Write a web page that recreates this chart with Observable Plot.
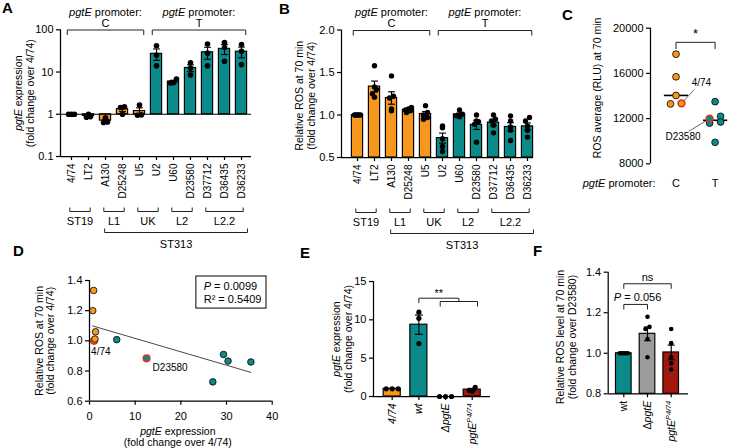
<!DOCTYPE html>
<html>
<head>
<meta charset="utf-8">
<script src="https://cdn.jsdelivr.net/npm/d3@7"></script>
<script src="https://cdn.jsdelivr.net/npm/@observablehq/plot@0.6"></script>
<style>
  html, body { margin: 0; background: #fff; }
  #fig { position: relative; width: 741px; height: 448px; overflow: hidden; background: #fff;
         font-family: "Liberation Sans", Arial, Helvetica, sans-serif; }
  #fig svg { position: absolute; left: 0; top: 0; }
  .panel-letter { position: absolute; font-weight: bold; font-size: 15px; line-height: 15px; }
</style>
</head>
<body>
<div id="fig"></div>
<script>
const W = 741, H = 448;
const FONT = '"Liberation Sans", Arial, Helvetica, sans-serif';
const ORANGE = "#f7971d", TEAL = "#0a8b8a", DARKRED = "#a2180d", GREY = "#9c9c9c", RING = "#d7361f";

// ---------- isolates (panels A-D) ----------
const strains = ["4/74", "LT2", "A130", "D25248", "U5", "U2", "U60", "D23580", "D37712", "D36435", "D36233"];
const promoterAllele = ["C", "C", "C", "C", "C", "T", "T", "T", "T", "T", "T"];
const lineageNames = ["ST19", "L1", "UK", "L2", "L2.2"];
const lineageFirst = [0, 2, 4, 6, 8];
const lineageLast = [1, 3, 5, 7, 10];
const st313Name = "ST313", st313First = 2, st313Last = 10;
const highlighted = ["4/74", "D23580"];

// pgtE expression, fold change over 4/74 (three replicates per isolate)
const expressionReps = [
  [1.0, 1.0, 1.0],
  [1.0, 0.85, 0.88],
  [0.82, 0.66, 0.64],
  [1.5, 1.45, 1.0],
  [1.65, 0.97, 0.95],
  [42, 25, 14],
  [6.8, 5.5, 5.6],
  [16.5, 12.5, 8.5],
  [46, 28, 14],
  [50, 38, 18],
  [45, 31, 15]
];
// relative ROS at 70 min, fold change over 4/74 (five replicates per isolate)
const rosReps = [
  [1.0, 1.0, 1.0, 1.0, 1.0],
  [1.58, 1.33, 1.30, 1.25, 1.21],
  [1.46, 1.22, 1.20, 1.07, 1.05],
  [1.09, 1.07, 1.06, 1.05, 1.03],
  [1.11, 1.03, 1.0, 0.97, 0.95],
  [0.87, 0.85, 0.72, 0.63, 0.57],
  [1.06, 1.01, 1.0, 0.99, 0.98],
  [1.0, 0.93, 0.92, 0.89, 0.68],
  [1.0, 0.95, 0.93, 0.88, 0.79],
  [0.99, 0.93, 0.86, 0.82, 0.70],
  [0.97, 0.93, 0.87, 0.82, 0.74]
];
// ROS average (RLU) at 70 min per isolate
const rluAverage = [13350, 17700, 15700, 14050, 13300, 9900, 13500, 12000, 12200, 11600, 11700];
const promoterGroups = ["C", "T"];

const regressionStats = ["P = 0.0099", "R² = 0.5409"];
const sigC = "*";

// ---------- D23580 mutants (panels E-F) ----------
const mutantLabelsE = ["4/74", "wt", "ΔpgtE", "pgtE^P4/74"];
const expressionRepsE = [[1, 1, 1], [11.0, 10.2, 6.9], [0, 0, 0], [1.2, 0.8, 0.7]];
const sigE = "**";
const mutantLabelsF = ["wt", "ΔpgtE", "pgtE^P4/74"];
const rosRepsF = [[1, 1, 1, 1, 1], [1.18, 1.13, 1.12, 1.07, 0.98], [1.12, 1.05, 0.98, 0.95, 0.92]];
const sigF = ["ns", "P = 0.056"];

const panelLetters = ["A", "B", "C", "D", "E", "F"];

// ---------- helpers ----------
const fig = document.getElementById("fig");
const alleleColor = a => (a === "C" ? ORANGE : TEAL);
const sem = r => (r.length > 1 ? d3.deviation(r) / Math.sqrt(r.length) : 0);

// italic gene names, italic P values, ^superscripts
function richText(svg) {
  const walker = document.createTreeWalker(svg, NodeFilter.SHOW_TEXT);
  const nodes = [];
  while (walker.nextNode()) nodes.push(walker.currentNode);
  for (const node of nodes) {
    const parent = node.parentNode;
    if (!parent || !/^(text|tspan)$/i.test(parent.nodeName)) continue;
    const s = node.nodeValue;
    const re = /(pgtE)|\^(\S+)|^(P)(?= =)/g;
    if (!/(pgtE)|\^(\S+)|^(P)(?= =)/.test(s)) continue;
    const frag = document.createDocumentFragment();
    let last = 0, m;
    while ((m = re.exec(s))) {
      if (m.index > last) frag.appendChild(document.createTextNode(s.slice(last, m.index)));
      const t = document.createElementNS("http://www.w3.org/2000/svg", "tspan");
      t.setAttribute("font-style", "italic");
      if (m[2]) {
        t.setAttribute("baseline-shift", "super");
        t.setAttribute("font-size", "70%");
        t.textContent = m[2];
      } else {
        t.textContent = m[1] || m[3];
      }
      frag.appendChild(t);
      last = re.lastIndex;
    }
    if (last < s.length) frag.appendChild(document.createTextNode(s.slice(last)));
    parent.replaceChild(frag, node);
  }
}

function mount(options) {
  const svg = Plot.plot({
    ...options,
    style: {background: "none", overflow: "visible", fontFamily: FONT, fontSize: "11px", color: "#000"}
  });
  richText(svg);
  fig.appendChild(svg);
  return svg;
}

// every chart shares the full figure canvas; its frame is set by the margins
function frameOf(x0, y0, x1, y1) {
  return {width: W, height: H, marginLeft: x0, marginTop: y0, marginRight: W - x1, marginBottom: H - y1};
}
// box: [frame left, top, right, bottom, first category centre, category step]
function indexDomain(box) {
  const [x0, , x1, , c0, step] = box;
  return [(x0 - c0) / step, (x1 - c0) / step];
}

// rotated two-line axis title centred on the frame's left side
function yTitle(text, dx, dy = 0) {
  return Plot.text([text], {frameAnchor: "left", textAnchor: "middle", lineAnchor: "middle", rotate: -90,
                            dx, dy, fontSize: 10.5, lineHeight: 1.1});
}

// spread points that share a vertical band symmetrically around the category centre
function dodge(values, toPx, {bin, step, maxSpread}) {
  const off = values.map(() => 0);
  const bins = d3.group(d3.range(values.length), i => Math.floor(toPx(values[i]) / bin));
  for (const idx of bins.values()) {
    if (idx.length < 2) continue;
    idx.sort((a, b) => values[a] - values[b] || a - b);
    const spread = Math.min(step * (idx.length - 1), maxSpread);
    idx.forEach((i, k) => { off[i] = -spread / 2 + spread * k / (idx.length - 1); });
  }
  return off;
}

function sigBracket(a, b, y, dropA, dropB = dropA) {
  const o = {stroke: "#222", strokeWidth: 1};
  return [
    Plot.link([0], {x1: a, x2: b, y1: y, y2: y, ...o}),
    Plot.link([0], {x1: a, x2: a, y1: y, y2: y - dropA, ...o}),
    Plot.link([0], {x1: b, x2: b, y1: y, y2: y - dropB, ...o})
  ];
}

function barChart(c) {
  const [x0, y0, x1, y1, , step] = c.box;
  const xDomain = indexDomain(c.box);
  const yPx = (c.y.type === "log" ? d3.scaleLog() : d3.scaleLinear()).domain(c.y.domain).range([y1, y0]);
  const bars = c.reps.map((r, i) => ({i, mean: d3.mean(r), sem: sem(r), color: c.colors[i]}));
  const pts = c.reps.flatMap((r, i) => {
    const off = dodge(r, yPx, c.dodge);
    return r.map((v, k) => ({i, v, x: i + off[k] / step}));
  });
  const err = bars.filter(d => d.sem > 0);
  const lw = 1.15;
  return mount({
    ...frameOf(x0, y0, x1, y1),
    x: {domain: xDomain, axis: null},
    y: {...c.y, axis: null},
    color: {type: "identity"},
    marks: [
      Plot.rectY(bars, {x1: d => d.i - c.barHalf, x2: d => d.i + c.barHalf, y1: c.base, y2: "mean",
                        fill: "color", stroke: "black", strokeWidth: lw}),
      ...(c.under || []),
      Plot.link(err, {x1: "i", x2: "i", y1: d => d.mean - d.sem, y2: d => d.mean + d.sem, strokeWidth: lw}),
      Plot.link(err, {x1: d => d.i - c.capHalf, x2: d => d.i + c.capHalf,
                      y1: d => d.mean + d.sem, y2: d => d.mean + d.sem, strokeWidth: lw}),
      Plot.link(err, {x1: d => d.i - c.capHalf, x2: d => d.i + c.capHalf,
                      y1: d => d.mean - d.sem, y2: d => d.mean - d.sem, strokeWidth: lw}),
      Plot.dot(pts, {x: "x", y: "v", r: c.dotR, fill: "black"}),
      Plot.ruleX([xDomain[0]], {strokeWidth: 1.25}),
      Plot.ruleY([c.y.domain[0]], {strokeWidth: 1.25}),
      Plot.axisY({ticks: c.yTicks, tickFormat: c.yFormat, tickSize: 4, tickPadding: 3, fontSize: 11,
                  label: null, strokeWidth: 1.2}),
      Plot.axisX({ticks: d3.range(c.labels.length), tickFormat: i => c.labels[i], tickRotate: -90,
                  tickSize: 4, tickPadding: 3, fontSize: c.xFont, fontStyle: c.xStyle || "normal",
                  label: null, strokeWidth: 1.2}),
      yTitle(c.yLabel, c.yLabelDx, c.yLabelDy || 0),
      ...(c.extra || [])
    ]
  });
}

// promoter, lineage and ST313 brackets drawn in page pixels over an isolate chart
function cladeOverlay(box, promoterY) {
  const [x0, y0, x1, y1] = box;
  const spansP = promoterGroups.map(a => {
    const idx = d3.range(strains.length).filter(i => promoterAllele[i] === a);
    return {label: a, a: idx[0] - 0.25, b: idx[idx.length - 1] + 0.25};
  });
  const spansL = lineageNames.map((name, k) => ({label: name, a: lineageFirst[k] - 0.1, b: lineageLast[k] + 0.1}));
  const spanS = [{label: st313Name, a: st313First - 0.05, b: st313Last + 0.35}];
  const mid = d => (d.a + d.b) / 2;
  const o = {stroke: "#222", strokeWidth: 1};
  const bracket = (spans, y, tick) => [
    Plot.link(spans, {x1: "a", x2: "b", y1: y, y2: y, ...o}),
    Plot.link(spans, {x1: "a", x2: "a", y1: y, y2: y + tick, ...o}),
    Plot.link(spans, {x1: "b", x2: "b", y1: y, y2: y + tick, ...o})
  ];
  const lineageY = y1 + 55, st313Y = y1 + 76;
  return mount({
    ...frameOf(x0, y0, x1, y1),
    x: {domain: indexDomain(box), axis: null},
    y: {type: "identity", axis: null},
    marks: [
      ...bracket(spansP, promoterY, 5),
      Plot.text(spansP, {x: mid, y: promoterY - 7, text: "label", fontSize: 11}),
      Plot.text(spansP, {x: mid, y: promoterY - 18, text: () => "pgtE promoter:", fontSize: 11}),
      ...bracket(spansL, lineageY, -4),
      Plot.text(spansL, {x: mid, y: lineageY + 10, text: "label", fontSize: 11}),
      ...bracket(spanS, st313Y, -4),
      Plot.text(spanS, {x: mid, y: st313Y + 12, text: "label", fontSize: 11})
    ]
  });
}

const isolateColors = promoterAllele.map(alleleColor);

// ---------- A: pgtE expression ----------
const boxA = [60, 29.3, 251, 156, 71, 17];
barChart({
  box: boxA, y: {type: "log", domain: [0.1, 100]}, yTicks: [0.1, 1, 10, 100], yFormat: d => String(d),
  labels: strains, reps: expressionReps, colors: isolateColors, base: 1,
  dotR: 2.8, dodge: {bin: 5.5, step: 4, maxSpread: 6}, barHalf: 0.33, capHalf: 0.2,
  yLabel: "pgtE expression\n(fold change over 4/74)", yLabelDx: -36, xFont: 10,
  under: [Plot.ruleY([1], {strokeWidth: 1.15})]
});
cladeOverlay(boxA, 29.5);

// ---------- B: relative ROS ----------
const boxB = [341, 29.5, 533, 157, 357, 17];
barChart({
  box: boxB, y: {domain: [0.5, 2]}, yTicks: [0.5, 1, 1.5, 2], yFormat: d3.format(".1f"),
  labels: strains, reps: rosReps, colors: isolateColors, base: 0.5,
  dotR: 2.7, dodge: {bin: 5.5, step: 4, maxSpread: 6}, barHalf: 0.33, capHalf: 0.2,
  yLabel: "Relative ROS at 70 min\n(fold change over 4/74)", yLabelDx: -36, yLabelDy: 2, xFont: 10
});
cladeOverlay(boxB, 30);

// ---------- C: ROS average by promoter allele ----------
{
  const box = [650, 27.7, 740, 163.3, 675.5, 39.1];
  const [x0, y0, x1, y1, , step] = box;
  const xDomain = indexDomain(box);
  const yPx = d3.scaleLinear().domain([8000, 20000]).range([y1, y0]);
  const pts = promoterGroups.flatMap((g, gi) => {
    const idx = d3.range(strains.length).filter(i => promoterAllele[i] === g);
    const vals = idx.map(i => rluAverage[i]);
    const off = dodge(vals, yPx, {bin: 7, step: 11, maxSpread: 11});
    return idx.map((i, k) => ({gi, name: strains[i], v: vals[k], x: gi + off[k] / step,
                               color: alleleColor(g), ring: highlighted.includes(strains[i])}));
  });
  const medians = promoterGroups.map((g, gi) => ({gi, m: d3.median(pts.filter(d => d.gi === gi), d => d.v)}));
  const p = pts.find(d => d.name === "4/74");
  const q = pts.find(d => d.name === "D23580");
  const lead = {stroke: "#444", strokeWidth: 0.8};
  mount({
    ...frameOf(x0, y0, x1, y1),
    x: {domain: xDomain, axis: null},
    y: {domain: [8000, 20000], axis: null},
    color: {type: "identity"},
    marks: [
      Plot.link(medians, {x1: d => d.gi - 0.31, x2: d => d.gi + 0.31, y1: "m", y2: "m", strokeWidth: 1.6}),
      Plot.link([p], {x1: "x", y1: "v", x2: d => d.x + 0.32, y2: d => d.v + 1200, ...lead}),
      Plot.link([q], {x1: "x", y1: "v", x2: d => d.x - 0.53, y2: d => d.v - 1120, ...lead}),
      Plot.dot(pts.filter(d => !d.ring), {x: "x", y: "v", r: 3.4, fill: "color", stroke: "black", strokeWidth: 0.8}),
      Plot.dot(pts.filter(d => d.ring), {x: "x", y: "v", r: 3.4, fill: "color", stroke: RING, strokeWidth: 1.6}),
      Plot.text([p], {x: d => d.x + 0.51, y: d => d.v + 1780, text: "name", fontSize: 10}),
      Plot.text([q], {x: d => d.x - 0.68, y: d => d.v - 1590, text: "name", fontSize: 10}),
      ...sigBracket(0, 1, 18750, 600),
      Plot.text([sigC], {x: 0.5, y: 19500, fontSize: 13}),
      Plot.ruleX([xDomain[0]], {strokeWidth: 1.25}),
      Plot.axisY({ticks: [8000, 12000, 16000, 20000], tickFormat: d => String(d), tickSize: 4, tickPadding: 3,
                  fontSize: 11, label: null, strokeWidth: 1.2}),
      Plot.axisX({ticks: [0, 1], tickFormat: i => promoterGroups[i], tickSize: 0, tickPadding: 15,
                  fontSize: 11, label: null}),
      Plot.text(["pgtE promoter:"], {frameAnchor: "bottom-left", textAnchor: "end", lineAnchor: "middle",
                                     dx: 5, dy: 20, fontSize: 11}),
      Plot.text(["ROS average (RLU) at 70 min"], {frameAnchor: "left", textAnchor: "middle", lineAnchor: "middle",
                                                  rotate: -90, dx: -53, dy: -8, fontSize: 10.5})
    ]
  });
}

// ---------- D: expression vs ROS ----------
{
  const pts = strains.map((s, i) => ({
    name: s, ex: d3.mean(expressionReps[i]), ros: d3.mean(rosReps[i]),
    color: alleleColor(promoterAllele[i]), ring: highlighted.includes(s)
  }));
  mount({
    ...frameOf(89, 280, 271.7, 400.7),
    x: {domain: [0, 40], axis: null},
    y: {domain: [0.6, 1.4], axis: null},
    color: {type: "identity"},
    marks: [
      Plot.linearRegressionY(pts, {x: "ex", y: "ros", ci: 0, stroke: "#333", strokeWidth: 0.9}),
      Plot.dot(pts.filter(d => d.ring), {x: "ex", y: "ros", r: 3.3, fill: "color", stroke: RING, strokeWidth: 1.6}),
      Plot.dot(pts.filter(d => !d.ring), {x: "ex", y: "ros", r: 3.3, fill: "color", stroke: "black", strokeWidth: 0.8}),
      Plot.text(pts.filter(d => d.name === "4/74"), {x: "ex", y: "ros", text: "name", textAnchor: "start",
                                                    dx: -3, dy: 11, fontSize: 10}),
      Plot.text(pts.filter(d => d.name === "D23580"), {x: "ex", y: "ros", text: "name", textAnchor: "start",
                                                      dx: 6, dy: 9, fontSize: 10}),
      Plot.rect([0], {x1: 23.4, x2: 38.75, y1: 1.214, y2: 1.4265, fill: "white", stroke: "black", strokeWidth: 1}),
      Plot.text([regressionStats.join("\n")], {x: 25, y: 1.3225, textAnchor: "start", lineHeight: 1.2, fontSize: 11}),
      Plot.ruleX([0], {strokeWidth: 1.25}),
      Plot.ruleY([0.6], {strokeWidth: 1.25}),
      Plot.axisY({ticks: [0.6, 0.8, 1.0, 1.2, 1.4], tickFormat: d3.format(".1f"), tickSize: 4, tickPadding: 3,
                  fontSize: 11, label: null, strokeWidth: 1.2}),
      Plot.axisX({ticks: [0, 10, 20, 30, 40], tickFormat: d => String(d), tickSize: 4, tickPadding: 7,
                  fontSize: 11, label: null, strokeWidth: 1.2}),
      Plot.text(["pgtE expression\n(fold change over 4/74)"], {frameAnchor: "bottom", textAnchor: "middle",
                                                               lineAnchor: "middle", dx: -3, dy: 35.5,
                                                               fontSize: 10.5, lineHeight: 1.1}),
      yTitle("Relative ROS at 70 min\n(fold change over 4/74)", -44.5)
    ]
  });
}

// ---------- E: pgtE expression in D23580 mutants ----------
barChart({
  box: [373, 281, 490, 396, 391.7, 26.67], y: {domain: [0, 15]}, yTicks: [0, 5, 10, 15], yFormat: d => String(d),
  labels: mutantLabelsE, reps: expressionRepsE, colors: [ORANGE, TEAL, TEAL, DARKRED], base: 0,
  dotR: 2.6, dodge: {bin: 5.5, step: 6, maxSpread: 12}, barHalf: 0.32, capHalf: 0.15,
  yLabel: "pgtE expression\n(fold change over 4/74)", yLabelDx: -31, xFont: 10.5, xStyle: "italic",
  extra: [
    ...sigBracket(1, 2.5, 12.82, 0.65, 0.43),
    ...sigBracket(1.8, 3.2, 12.39, 0.65),
    Plot.text([sigE], {x: 1.75, y: 13.5, fontSize: 11})
  ]
});

// ---------- F: ROS in D23580 mutants ----------
barChart({
  box: [607.7, 271.7, 688, 393.3, 623.3, 23.7], y: {domain: [0.8, 1.4]}, yTicks: [0.8, 1.0, 1.2, 1.4],
  yFormat: d3.format(".1f"),
  labels: mutantLabelsF, reps: rosRepsF, colors: [TEAL, GREY, DARKRED], base: 0.8,
  dotR: 2.3, dodge: {bin: 5, step: 4, maxSpread: 8}, barHalf: 0.33, capHalf: 0.15,
  yLabel: "Relative ROS level at 70 min\n(fold change over D23580)", yLabelDx: -42, yLabelDy: 4, xFont: 10.5,
  extra: [
    ...sigBracket(0, 2, 1.343, 0.025),
    Plot.text([sigF[0]], {x: 1, y: 1.373, fontSize: 11}),
    ...sigBracket(0, 1, 1.241, 0.025),
    Plot.text([sigF[1]], {x: 0.58, y: 1.276, fontSize: 11})
  ]
});

// ---------- panel letters ----------
const letterPos = [[2, 0], [279, 1], [562, 7], [13, 243], [300, 245], [533, 243]];
panelLetters.forEach((t, k) => {
  const el = document.createElement("div");
  el.className = "panel-letter";
  el.textContent = t;
  el.style.left = letterPos[k][0] + "px";
  el.style.top = letterPos[k][1] + "px";
  fig.appendChild(el);
});
</script>
</body>
</html>
